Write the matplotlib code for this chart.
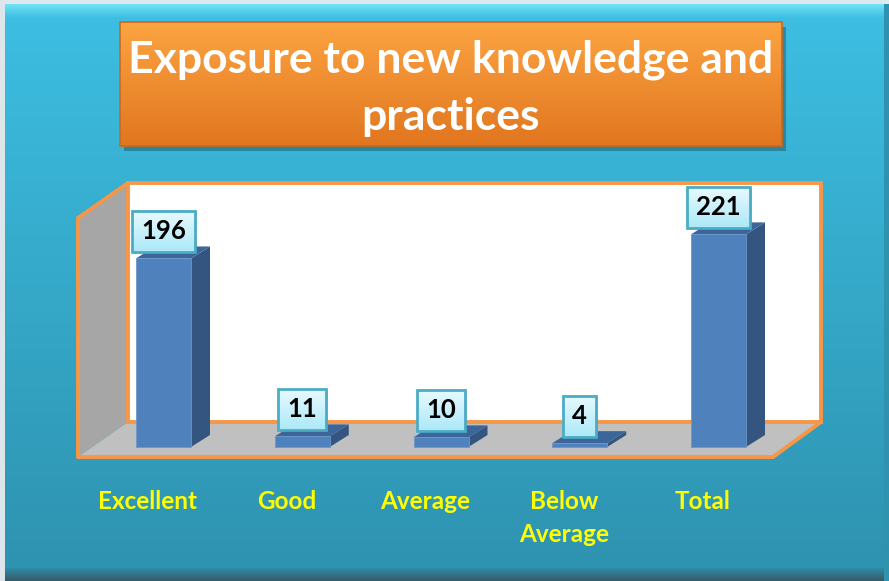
import numpy as np
import matplotlib
matplotlib.use("Agg")
import matplotlib.pyplot as plt
from matplotlib.patches import Polygon, Rectangle

# ---------------- data ----------------
categories = ["Excellent", "Good", "Average", "Below Average", "Total"]
values = [196, 11, 10, 4, 221]
title = "Exposure to new knowledge and\npractices"

# ---------------- figure ----------------
W, H = 889, 581
fig = plt.figure(figsize=(W / 100, H / 100), dpi=100)
FONT = ["Lato", "DejaVu Sans"]

bg = fig.add_axes([0, 0, 1, 1])
bg.set_xlim(0, W)
bg.set_ylim(H, 0)
bg.axis("off")

def vgrad(ax, extent, c_top, c_bot, z, n=256):
    t = np.linspace(0, 1, n).reshape(-1, 1, 1)
    a = np.array(matplotlib.colors.to_rgb(c_top))
    b = np.array(matplotlib.colors.to_rgb(c_bot))
    img = a + (b - a) * t
    return ax.imshow(img, extent=extent, aspect="auto", zorder=z, interpolation="bilinear")

# background with bevel edges
vgrad(bg, (0, W, H, 0), "#3DBFE3", "#2E92AF", 0)
vgrad(bg, (0, W, 18, 4), "#72E4F9", "#3DBEE2", 0.5)
vgrad(bg, (0, W, H, 568), "#2E8CA8", "#375A66", 0.5)
bg.add_patch(Rectangle((0, 0), W, 4, fc="#DCE9EE", ec="none", zorder=0.6))
bg.add_patch(Rectangle((0, 0), 5, H, fc="#DDE6EA", ec="none", zorder=0.6))
bg.add_patch(Rectangle((884, 4), 5, H - 4, fc="#2F93B0", ec="none", zorder=0.55))

# title box
bg.add_patch(Rectangle((124, 27), 782 - 120, 146 - 22, fc="black", alpha=0.25, ec="none", zorder=1))
vgrad(bg, (120, 782, 146, 22), "#FCA442", "#E1761F", 2)
bg.add_patch(Rectangle((120, 22), 782 - 120, 146 - 22, fc="none", ec="#C9691D", lw=1.2, zorder=3))
bg.text(451, 88.5, title, ha="center", va="center", color="white", fontsize=32,
        fontweight="bold", family=FONT, linespacing=1.52, zorder=4)

# 3-D walls
orange = "#F79646"
bg.add_patch(Polygon([(78, 218), (128, 183), (128, 422), (78, 457)], closed=True,
                     fc="#A6A6A6", ec="none", zorder=2))
bg.add_patch(Polygon([(128, 422), (821, 422), (773, 457), (78, 457)], closed=True,
                     fc="#C0C0C0", ec="none", zorder=2))
bg.add_patch(Rectangle((128, 183), 821 - 128, 422 - 183, fc="white", ec=orange, lw=2.8, zorder=2.2))
for seg in [[(78, 218), (128, 183)], [(78, 218), (78, 457)], [(78, 457), (773, 457)],
            [(773, 457), (821, 422)]]:
    xs, ys = zip(*seg)
    bg.plot(xs, ys, color=orange, lw=2.8, solid_capstyle="round", zorder=2.3)

# ---------------- data axes ----------------
px_per_cat = 138.75
x0_px = 163.5
px_per_unit = 0.962
ax_left, ax_right, ax_bottom, ax_top = 78, 821, 447, 183
ax = fig.add_axes([ax_left / W, (H - ax_bottom) / H, (ax_right - ax_left) / W,
                   (ax_bottom - ax_top) / H])
ax.set_xlim((ax_left - x0_px) / px_per_cat, (ax_right - x0_px) / px_per_cat)
ax.set_ylim(0, (ax_bottom - ax_top) / px_per_unit)
ax.set_autoscale_on(False)
ax.axis("off")
ax.patch.set_visible(False)

x = np.arange(len(categories))
bw = 55 / px_per_cat
ddx = 19 / px_per_cat
ddy = 12 / px_per_unit

bars = ax.bar(x, values, width=bw, color="#4F81BD", edgecolor="#6C97CB", lw=0.6,
              zorder=3, clip_on=False)
value_texts = []
for xi, v in zip(x, values):
    xl, xr = xi - bw / 2, xi + bw / 2
    ax.add_patch(Polygon([(xr, 0), (xr + ddx, ddy), (xr + ddx, v + ddy), (xr, v)],
                         closed=True, fc="#34557F", ec="none", zorder=2.9, clip_on=False))
    ax.add_patch(Polygon([(xl, v), (xr, v), (xr + ddx, v + ddy), (xl + ddx, v + ddy)],
                         closed=True, fc="#3C659A", ec="none", zorder=2.9, clip_on=False))
    t = ax.annotate(str(v), xy=(xi, v), xytext=(0, 27 * 0.72), textcoords="offset points",
                    ha="center", va="center", fontsize=18.5, fontweight="bold",
                    family=FONT, color="black", zorder=5, annotation_clip=False)
    value_texts.append(t)

for xi, c in zip(x, categories):
    lab = c.replace(" ", "\n") if c == "Below Average" else c
    ax.annotate(lab, xy=(xi, 0), xycoords=("data", "axes fraction"),
                xytext=(-16 * 0.72, -43 * 0.72), textcoords="offset points",
                ha="center", va="top", fontsize=17.5, fontweight="bold", family=FONT,
                color="#FFFF00", linespacing=1.52, annotation_clip=False)

# label boxes sized around the rendered value text
fig.canvas.draw()
rend = fig.canvas.get_renderer()
inv = ax.transData.inverted()
for t in value_texts:
    bb = t.get_window_extent(rend)
    cx, cy = (bb.x0 + bb.x1) / 2, (bb.y0 + bb.y1) / 2
    hw, hh = bb.width / 2 + 9, 20.5
    (x0, y0), (x1, y1) = inv.transform([[cx - hw, cy - hh], [cx + hw, cy + hh]])
    (sx0, sy0), (sx1, sy1) = inv.transform([[cx - hw + 2, cy - hh - 2.5], [cx + hw + 2, cy + hh - 2.5]])
    ax.add_patch(Rectangle((sx0, sy0), sx1 - sx0, sy1 - sy0, fc="black", alpha=0.22,
                           ec="none", zorder=4.3, clip_on=False))
    im = vgrad(ax, (x0, x1, y0, y1), "#E8FAFE", "#ACE8F8", 4.5)
    im.set_clip_on(False)
    ax.add_patch(Rectangle((x0, y0), x1 - x0, y1 - y0, fc="none", ec="#4BACC6", lw=2.0,
                           zorder=4.6, clip_on=False))

fig.savefig("out.png", dpi=100)
